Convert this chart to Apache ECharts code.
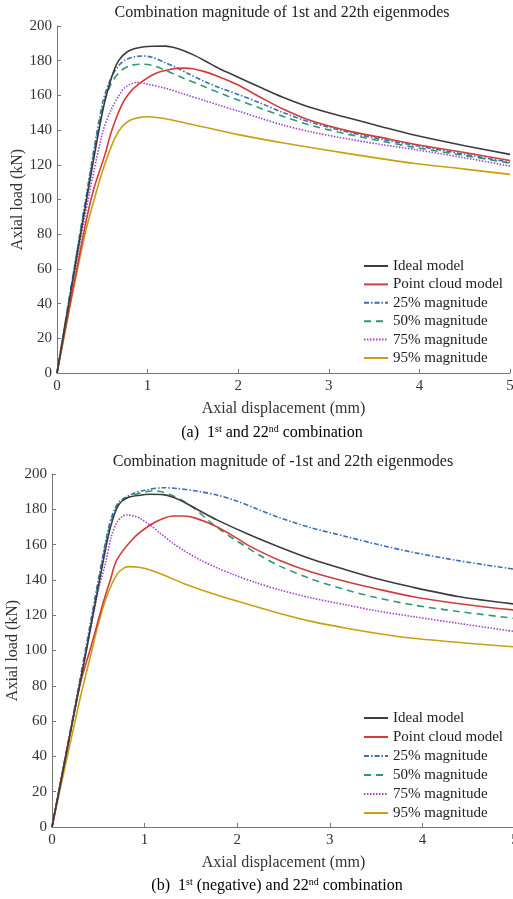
<!DOCTYPE html>
<html>
<head>
    <meta charset="UTF-8">
    <title></title>
    <script type="text/javascript" src="https://cdn.jsdelivr.net/npm/echarts@6/dist/echarts.min.js"></script>
    <style>
        body { margin: 0; background: #fff; }
        #main { width: 513px; height: 899px; }
    </style>
</head>
<body>
<div id="main"></div>
<script>
    // series names (same for both panels)
    var names = ['Ideal model', 'Point cloud model', '25% magnitude', '50% magnitude', '75% magnitude', '95% magnitude'];
    var xTicks = [0, 1, 2, 3, 4, 5];

    // (a) 1st and 22nd combination  -- [displacement mm, load kN]
    var aIdeal = [[0,0],[0.3,92],[0.5,150],[0.6,170],[0.68,180],[0.78,185.3],[0.9,187.5],[1.05,188.3],[1.2,188.4],[1.3,187.5],[1.4,185.8],[1.5,183.5],[1.63,180],[1.8,175.2],[2.0,170.5],[2.25,164.5],[2.5,158.8],[2.8,153],[3.2,147.3],[3.6,141.7],[3.93,137.3],[4.5,131],[5,126]];
    var aCloud = [[0,0],[0.3,82],[0.4,105],[0.53,126],[0.6,139],[0.71,154],[0.8,161.5],[0.9,166.5],[1.08,172.5],[1.27,175.2],[1.4,175.7],[1.5,175.4],[1.63,173.7],[1.8,170.5],[2.0,166],[2.25,158.8],[2.5,152],[2.8,145.5],[3.2,139.7],[3.6,135.5],[3.93,132],[4.5,127],[5,122.5]];
    var a25 = [[0,0],[0.3,95],[0.5,155],[0.6,170.5],[0.68,177],[0.75,180.3],[0.85,182.2],[0.95,182.7],[1.05,182],[1.19,179],[1.3,176.5],[1.45,172.5],[1.63,168],[1.8,164.3],[2.0,160.5],[2.25,155.5],[2.5,150],[2.8,144.5],[3.2,139],[3.6,134.5],[3.93,131.4],[4.5,126],[5,121.5]];
    var a50 = [[0,0],[0.3,94],[0.5,152],[0.6,167],[0.7,174],[0.8,177],[0.92,178],[1.05,177.3],[1.19,174.6],[1.4,169.8],[1.63,165],[1.8,161.3],[2.0,157.3],[2.25,152.5],[2.5,147.8],[2.8,142.8],[3.2,137.7],[3.6,133.5],[3.93,130.2],[4.5,125.3],[5,121]];
    var a75 = [[0,0],[0.3,88],[0.5,138],[0.6,152],[0.68,159.5],[0.75,164.5],[0.88,167.5],[1.0,166.5],[1.19,164.2],[1.4,160.8],[1.63,157],[1.8,154.2],[2.0,151],[2.25,146.8],[2.5,142.8],[2.8,139],[3.2,135],[3.6,131.5],[3.93,129],[4.5,124],[5,119.3]];
    var a95 = [[0,0],[0.3,78],[0.44,105.5],[0.5,116],[0.57,126.6],[0.64,135.5],[0.71,141.5],[0.8,145.5],[0.9,147.2],[1.0,147.7],[1.1,147.3],[1.27,145.8],[1.45,143.7],[1.63,141.6],[2.0,137.4],[2.5,132.6],[3.2,126.6],[3.93,120.9],[4.5,117.5],[5,114.5]];

    // (b) 1st (negative) and 22nd combination
    var bIdeal = [[0,0],[0.36,97],[0.5,136],[0.6,163],[0.66,175],[0.72,182.5],[0.8,186.3],[0.95,188],[1.06,188.5],[1.2,188.3],[1.3,187],[1.42,184.3],[1.6,179],[1.78,174],[2.14,165.4],[2.46,158.5],[2.8,151.8],[3.18,145.6],[3.5,140.8],[3.9,135.8],[4.4,130.5],[5,126.3]];
    var bCloud = [[0,0],[0.3,80],[0.42,102],[0.55,126.7],[0.63,140],[0.7,151.3],[0.88,163.6],[1.06,171.1],[1.2,174.8],[1.31,176.2],[1.42,176.2],[1.55,175],[1.78,170.1],[2.0,163.5],[2.14,159],[2.46,151],[2.8,144.5],[3.18,139],[3.5,135],[3.9,130.5],[4.4,126.5],[5,122.9]];
    var b25 = [[0,0],[0.36,100],[0.5,140],[0.6,167],[0.66,178],[0.73,184.5],[0.88,189],[1.0,190.8],[1.2,192.2],[1.35,191.8],[1.6,190],[1.8,187.8],[1.96,185.3],[2.2,180.5],[2.46,175.2],[2.8,169.5],[3.18,164.5],[3.5,160.3],[3.9,155.6],[4.4,150.8],[5,146]];
    var b50 = [[0,0],[0.36,98],[0.5,138],[0.6,165],[0.66,176.5],[0.73,183.5],[0.85,187.5],[1.0,189.8],[1.1,190.4],[1.2,189.8],[1.3,187.8],[1.42,184.6],[1.55,180],[1.67,174.5],[1.8,169],[1.96,163.3],[2.28,152.8],[2.46,147.8],[2.8,140.5],[3.18,134.3],[3.5,130],[3.9,125.8],[4.4,122],[5,118.2]];
    var b75 = [[0,0],[0.36,97],[0.5,134],[0.58,150],[0.64,164.5],[0.7,172.5],[0.76,176],[0.81,176.8],[0.9,176],[0.95,174.9],[1.06,171],[1.17,166.4],[1.3,161],[1.42,156.8],[1.6,151.3],[1.78,146.9],[1.96,143],[2.2,138.5],[2.46,134.3],[2.8,129.8],[3.18,125.8],[3.5,122.5],[3.9,119.2],[4.4,115.3],[5,110.7]];
    var b95 = [[0,0],[0.3,72],[0.43,100],[0.5,115],[0.59,130.5],[0.7,143],[0.78,146.8],[0.84,147.5],[0.95,147],[1.06,145.6],[1.25,141.8],[1.42,138],[1.78,131.4],[2.14,125.8],[2.46,121],[2.8,116.5],[3.18,112.6],[3.5,109.8],[3.9,106.9],[4.4,104.5],[5,102]];

    var colors = ['#3c3c3c', '#d23c3c', '#3a6fb8', '#2e9a6a', '#a040d0', '#c9a010'];
    var dashes = ['solid', 'solid', [5, 2, 1.5, 2], [7, 5], [1.5, 1.5], 'solid'];
    var font = 'Liberation Serif';

    function makeX(i) {
        return {
            type: 'value', gridIndex: i, min: 0, max: 5, interval: 1,
            name: 'Axial displacement (mm)', nameLocation: 'middle', nameGap: 28,
            nameMoveOverlap: false,
            nameTextStyle: {fontSize: 16, color: '#333', fontFamily: font},
            axisLine: {show: true, lineStyle: {color: '#777', width: 1}},
            axisTick: {show: true, inside: true, length: 4, lineStyle: {color: '#777'}},
            axisLabel: {fontSize: 15, color: '#333', fontFamily: font, margin: 6},
            splitLine: {show: false}
        };
    }

    function makeY(i) {
        return {
            type: 'value', gridIndex: i, min: 0, max: 200, interval: 20,
            name: 'Axial load (kN)', nameLocation: 'middle', nameGap: 31, nameRotate: 90,
            nameMoveOverlap: false,
            nameTextStyle: {fontSize: 16, color: '#333', fontFamily: font},
            axisLine: {show: true, lineStyle: {color: '#777', width: 1}},
            axisTick: {show: true, inside: true, length: 4, lineStyle: {color: '#777'}},
            axisLabel: {fontSize: 15, color: '#333', fontFamily: font, margin: 5},
            splitLine: {show: false}
        };
    }

    function makeSeries(list, i) {
        var out = [];
        for (var k = 0; k < list.length; k++) {
            out.push({
                name: names[k], type: 'line', xAxisIndex: i, yAxisIndex: i,
                data: list[k], symbol: 'none', smooth: 0.3,
                lineStyle: {color: colors[k], width: 1.6, type: dashes[k]},
                itemStyle: {color: colors[k]},
                z: 10 - k
            });
        }
        return out;
    }

    function makeLegend(top, gap) {
        return {
            orient: 'vertical', left: 358, top: top, itemWidth: 24, itemHeight: 2, itemGap: gap,
            data: names, selectedMode: false,
            itemStyle: {opacity: 0},
            textStyle: {fontSize: 15, color: '#222', fontFamily: font, lineHeight: 18}
        };
    }

    var rich = {
        n: {fontSize: 16, fontFamily: font, color: '#111', lineHeight: 18},
        s: {fontSize: 10, fontFamily: font, color: '#111', lineHeight: 18, verticalAlign: 'top'}
    };

    var myChart = echarts.init(document.getElementById('main'));
    myChart.setOption({
        animation: false,
        textStyle: {fontFamily: font},
        grid: [
            {left: 57, top: 26, width: 453, height: 347, outerBoundsMode: 'none'},
            {left: 52, top: 474, width: 463, height: 353, outerBoundsMode: 'none'}
        ],
        xAxis: [makeX(0), makeX(1)],
        yAxis: [makeY(0), makeY(1)],
        legend: [makeLegend(252, 0.4), makeLegend(704, 1)],
        graphic: [
            {type: 'text', x: 282, y: 13, style: {text: 'Combination magnitude of 1st and 22th eigenmodes', font: '16px "Liberation Serif"', fill: '#222', align: 'center', verticalAlign: 'middle', textAlign: 'center', textVerticalAlign: 'middle'}},
            {type: 'text', x: 283, y: 462, style: {text: 'Combination magnitude of -1st and 22th eigenmodes', font: '16px "Liberation Serif"', fill: '#222', align: 'center', verticalAlign: 'middle', textAlign: 'center', textVerticalAlign: 'middle'}},
            {type: 'text', x: 272, y: 433, style: {text: '{n|(a)  1}{s|st}{n| and 22}{s|nd}{n| combination}', rich: rich, align: 'center', verticalAlign: 'middle', textAlign: 'center', textVerticalAlign: 'middle'}},
            {type: 'text', x: 277, y: 886, style: {text: '{n|(b)  1}{s|st}{n| (negative) and 22}{s|nd}{n| combination}', rich: rich, align: 'center', verticalAlign: 'middle', textAlign: 'center', textVerticalAlign: 'middle'}}
        ],
        series: makeSeries([aIdeal, aCloud, a25, a50, a75, a95], 0)
            .concat(makeSeries([bIdeal, bCloud, b25, b50, b75, b95], 1))
    });
</script>
</body>
</html>
